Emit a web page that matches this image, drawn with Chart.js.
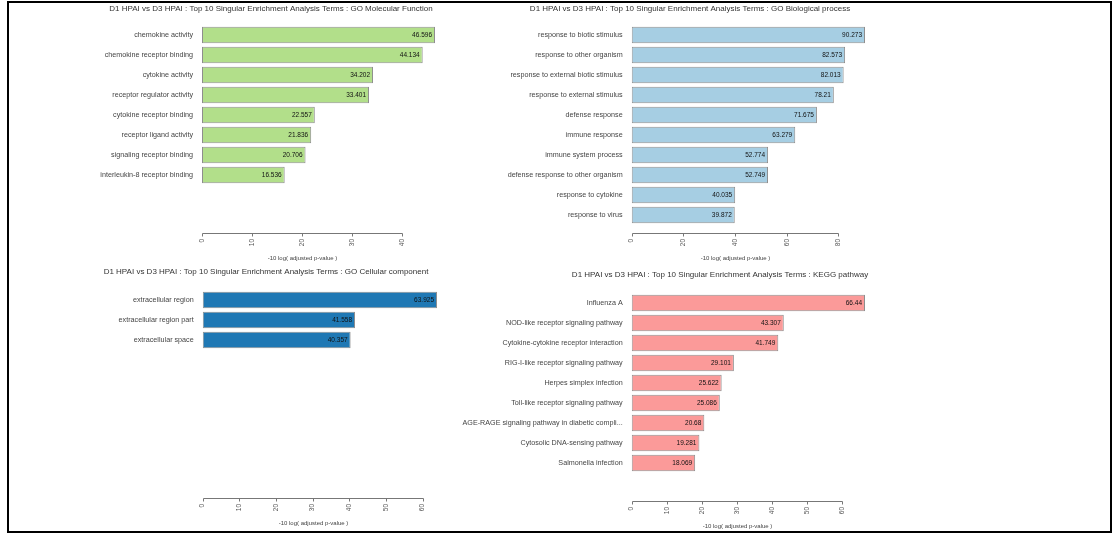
<!DOCTYPE html>
<html>
<head>
<meta charset="utf-8">
<script src="https://cdn.jsdelivr.net/npm/chart.js@4.4.0/dist/chart.umd.min.js"></script>
<style>
    html, body { margin: 0; padding: 0; background: #fff; }
    #wrap { position: relative; width: 1118px; height: 535px; overflow: hidden; }
    #wrap canvas { position: absolute; left: 0; top: 0; }
    #frame { position: absolute; left: 7px; top: 1px; width: 1105px; height: 532px;
             border: 2px solid #000; box-sizing: border-box; }
</style>
</head>
<body>
<div id="wrap">
    <div id="frame"></div>
    <canvas id="mfChart" width="1118" height="535"></canvas>
    <canvas id="bpChart" width="1118" height="535"></canvas>
    <canvas id="ccChart" width="1118" height="535"></canvas>
    <canvas id="keggChart" width="1118" height="535"></canvas>
</div>
<script>
// GO Molecular Function
const mfTerms = ['chemokine activity', 'chemokine receptor binding', 'cytokine activity',
    'receptor regulator activity', 'cytokine receptor binding', 'receptor ligand activity',
    'signaling receptor binding', 'interleukin-8 receptor binding'];
const mfValues = [46.596, 44.134, 34.202, 33.401, 22.557, 21.836, 20.706, 16.536];
const mfTicks = [0, 10, 20, 30, 40];

// GO Biological process
const bpTerms = ['response to biotic stimulus', 'response to other organism',
    'response to external biotic stimulus', 'response to external stimulus', 'defense response',
    'immune response', 'immune system process', 'defense response to other organism',
    'response to cytokine', 'response to virus'];
const bpValues = [90.273, 82.573, 82.013, 78.21, 71.675, 63.279, 52.774, 52.749, 40.035, 39.872];
const bpTicks = [0, 20, 40, 60, 80];

// GO Cellular component
const ccTerms = ['extracellular region', 'extracellular region part', 'extracellular space'];
const ccValues = [63.925, 41.558, 40.357];
const ccTicks = [0, 10, 20, 30, 40, 50, 60];

// KEGG pathway
const keggTerms = ['Influenza A', 'NOD-like receptor signaling pathway',
    'Cytokine-cytokine receptor interaction', 'RIG-I-like receptor signaling pathway',
    'Herpes simplex infection', 'Toll-like receptor signaling pathway',
    'AGE-RAGE signaling pathway in diabetic compli...', 'Cytosolic DNA-sensing pathway',
    'Salmonella infection'];
const keggValues = [66.44, 43.307, 41.749, 29.101, 25.622, 25.086, 20.68, 19.281, 18.069];
const keggTicks = [0, 10, 20, 30, 40, 50, 60];

const FONT = '"Liberation Sans", Arial, Helvetica, sans-serif';
const X_TITLE = '-10 log( adjusted p-value )';

// eje estilo R: linea solo entre el primer y ultimo tick, titulos y valores en las barras
const rStylePlugin = {
    id: 'rStyle',
    afterDatasetsDraw(chart, args, opts) {
        const ctx = chart.ctx;
        const values = chart.data.datasets[0].data;
        ctx.save();
        ctx.font = '6.5px ' + FONT;
        ctx.fillStyle = '#111';
        ctx.textAlign = 'right';
        ctx.textBaseline = 'middle';
        chart.getDatasetMeta(0).data.forEach((bar, i) => {
            if (values[i] == null) return;
            ctx.fillText(String(values[i]), bar.x - 3, bar.y + 0.5);
        });
        ctx.restore();
    },
    afterDraw(chart, args, opts) {
        const ctx = chart.ctx;
        const xs = chart.scales.x;
        const area = chart.chartArea;
        const ticks = opts.ticks;
        const y = Math.round(area.bottom + 8) + 0.5;
        const x0 = Math.round(xs.getPixelForValue(ticks[0])) + 0.5;
        const x1 = Math.round(xs.getPixelForValue(ticks[ticks.length - 1])) + 0.5;
        ctx.save();
        ctx.strokeStyle = '#777';
        ctx.lineWidth = 1;
        ctx.beginPath();
        ctx.moveTo(x0, y);
        ctx.lineTo(x1, y);
        ticks.forEach(v => {
            const px = Math.round(xs.getPixelForValue(v)) + 0.5;
            ctx.moveTo(px, y);
            ctx.lineTo(px, y + 3);
        });
        ctx.stroke();

        ctx.fillStyle = '#444';
        ctx.textAlign = 'center';
        ctx.textBaseline = 'middle';
        ctx.font = '6px ' + FONT;
        ctx.fillText(X_TITLE, (x0 + x1) / 2, area.bottom + 33);

        ctx.fillStyle = '#333';
        ctx.font = '8px ' + FONT;
        ctx.fillText(opts.title, opts.titleX, opts.titleY);
        ctx.restore();
    }
};

function makePanel(canvasId, terms, values, ticks, fill, title, box) {
    const slots = 10;
    // rellenar hasta 10 posiciones para que todas las barras tengan el mismo alto
    const labels = terms.concat(Array(slots - terms.length).fill(''));
    const data = values.concat(Array(slots - values.length).fill(null));
    const hi = Math.max(...values);

    new Chart(document.getElementById(canvasId), {
        type: 'bar',
        data: {
            labels: labels,
            datasets: [{
                data: data,
                backgroundColor: fill,
                borderColor: 'rgba(50,50,50,0.55)',
                borderWidth: 1,
                borderSkipped: false,
                barPercentage: 0.833,
                categoryPercentage: 1
            }]
        },
        options: {
            indexAxis: 'y',
            responsive: false,
            animation: false,
            layout: {
                padding: {
                    left: box.left - 200,
                    right: 1118 - box.right,
                    top: box.top,
                    bottom: 535 - box.bottom - 40
                }
            },
            scales: {
                x: {
                    type: 'linear',
                    min: 0,
                    max: hi,
                    afterBuildTicks: s => { s.ticks = ticks.map(v => ({ value: v })); },
                    afterFit: s => { s.height = 40; },
                    grid: { display: false, drawTicks: false },
                    border: { display: false },
                    ticks: {
                        minRotation: 90,
                        maxRotation: 90,
                        padding: 14,
                        autoSkip: false,
                        color: '#555',
                        font: { family: FONT, size: 6.5 },
                        callback: v => String(v)
                    }
                },
                y: {
                    afterFit: s => { s.width = 200; },
                    grid: { display: false, drawTicks: false },
                    border: { display: false },
                    ticks: {
                        padding: 9,
                        autoSkip: false,
                        color: '#444',
                        font: { family: FONT, size: 7.2 }
                    }
                }
            },
            plugins: {
                legend: { display: false },
                tooltip: { enabled: false },
                rStyle: { ticks: ticks, title: title, titleX: box.titleX, titleY: box.titleY }
            }
        },
        plugins: [rStylePlugin]
    });
}

makePanel('mfChart', mfTerms, mfValues, mfTicks, '#b2df8a',
    'D1 HPAI vs D3 HPAI : Top 10 Singular Enrichment Analysis Terms : GO Molecular Function',
    { left: 202, right: 435, top: 25, bottom: 225, titleX: 271, titleY: 9 });

makePanel('bpChart', bpTerms, bpValues, bpTicks, '#a6cee3',
    'D1 HPAI vs D3 HPAI : Top 10 Singular Enrichment Analysis Terms : GO Biological process',
    { left: 631.7, right: 865, top: 25, bottom: 225, titleX: 690, titleY: 9 });

makePanel('ccChart', ccTerms, ccValues, ccTicks, '#1f78b4',
    'D1 HPAI vs D3 HPAI : Top 10 Singular Enrichment Analysis Terms : GO Cellular component',
    { left: 202.7, right: 437, top: 290, bottom: 490, titleX: 266, titleY: 272 });

makePanel('keggChart', keggTerms, keggValues, keggTicks, '#fb9a99',
    'D1 HPAI vs D3 HPAI : Top 10 Singular Enrichment Analysis Terms : KEGG pathway',
    { left: 631.7, right: 865, top: 293, bottom: 493, titleX: 720, titleY: 275 });
</script>
</body>
</html>
